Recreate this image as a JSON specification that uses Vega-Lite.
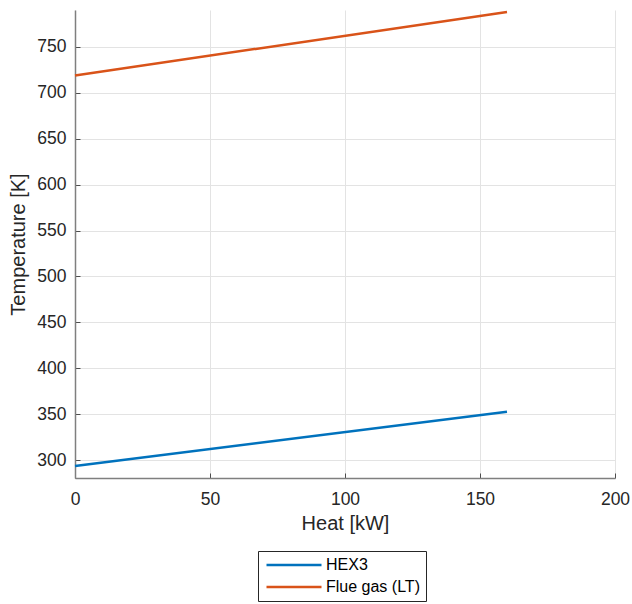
{
  "$schema": "https://vega.github.io/schema/vega-lite/v6.json",
  "width": 540,
  "height": 468,
  "autosize": {"type": "none"},
  "padding": {"left": 75, "top": 10, "right": 17, "bottom": 126},
  "background": "white",
  "data": {
    "values": [
      {"heat": 0, "temp": 293.8, "series": "HEX3"},
      {"heat": 160, "temp": 352.9, "series": "HEX3"},
      {"heat": 0, "temp": 718.8, "series": "Flue gas (LT)"},
      {"heat": 160, "temp": 787.8, "series": "Flue gas (LT)"}
    ]
  },
  "config": {
    "view": {"stroke": null},
    "font": "Liberation Sans",
    "axis": {
      "domainColor": "#7f7f7f",
      "domainWidth": 1.5,
      "tickColor": "#4d4d4d",
      "tickSize": -5,
      "tickWidth": 1,
      "gridColor": "#e3e3e3",
      "gridWidth": 1,
      "labelFont": "Liberation Sans",
      "labelFontSize": 17.5,
      "labelColor": "#262626",
      "labelFlush": false,
      "labelOverlap": false,
      "titleFont": "Liberation Sans",
      "titleFontSize": 20,
      "titleFontWeight": "normal",
      "titleColor": "#262626"
    }
  },
  "mark": {"type": "line", "strokeWidth": 2.5},
  "encoding": {
    "x": {
      "field": "heat",
      "type": "quantitative",
      "title": "Heat [kW]",
      "scale": {"domain": [0, 200], "nice": false, "zero": false},
      "axis": {"values": [0, 50, 100, 150, 200], "labelPadding": 17, "titlePadding": 6}
    },
    "y": {
      "field": "temp",
      "type": "quantitative",
      "title": "Temperature [K]",
      "scale": {"domain": [280.7, 790], "nice": false, "zero": false},
      "axis": {"values": [300, 350, 400, 450, 500, 550, 600, 650, 700, 750], "labelPadding": 14, "titlePadding": 8}
    },
    "color": {
      "field": "series",
      "type": "nominal",
      "sort": ["HEX3", "Flue gas (LT)"],
      "scale": {"domain": ["HEX3", "Flue gas (LT)"], "range": ["#0072BD", "#D95319"]},
      "legend": {
        "title": null,
        "orient": "none",
        "legendX": 183,
        "legendY": 541,
        "symbolType": "M -1 0 L 9 0",
        "symbolSize": 121,
        "symbolStrokeWidth": 2.5,
        "labelOffset": 46,
        "labelFont": "Liberation Sans",
        "labelFontSize": 16,
        "labelColor": "#000000",
        "rowPadding": 6,
        "padding": 6,
        "strokeColor": "#262626",
        "fillColor": "white"
      }
    }
  }
}
